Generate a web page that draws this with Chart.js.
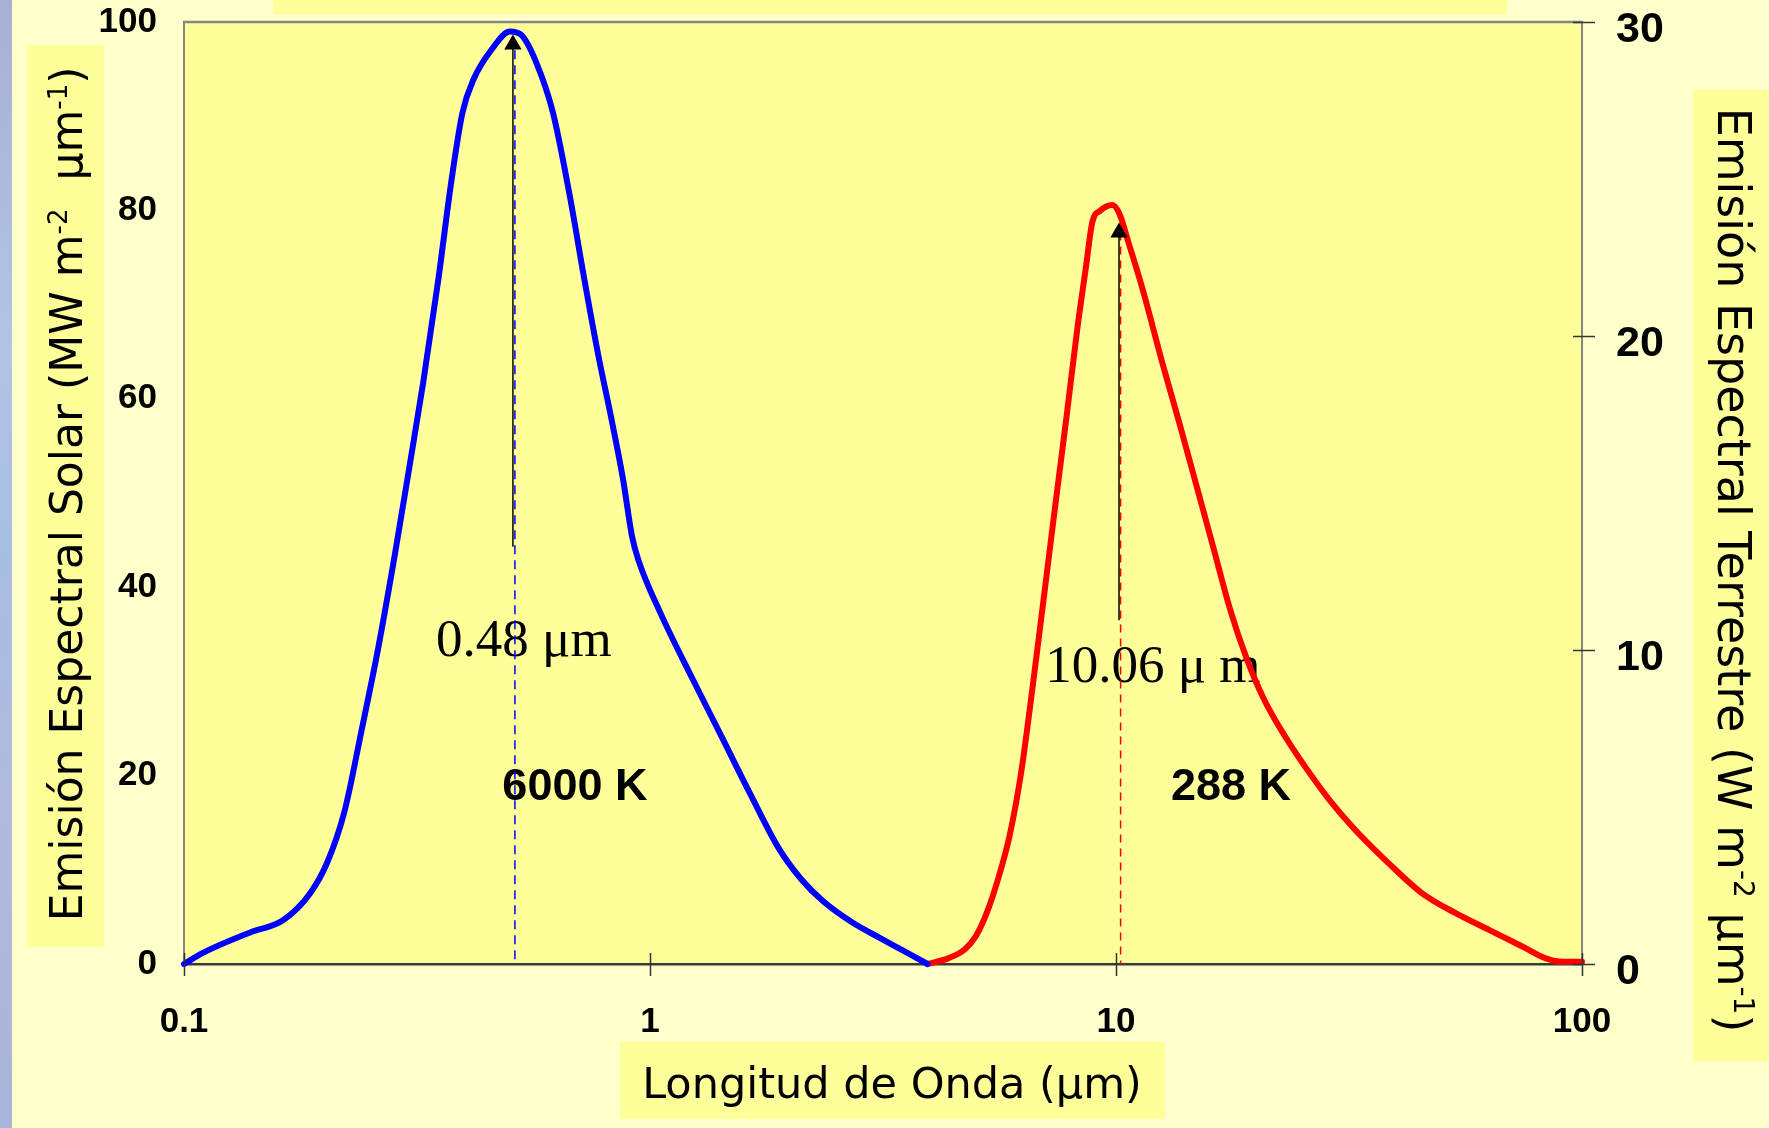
<!DOCTYPE html>
<html>
<head>
<meta charset="utf-8">
<script src="https://cdn.jsdelivr.net/npm/chart.js@4.4.1/dist/chart.umd.min.js"></script>
<style>
html,body{margin:0;padding:0;background:#FFFFCC;overflow:hidden}
canvas{display:block}
</style>
</head>
<body>
<canvas id="c" width="1769" height="1128"></canvas>
<script>
// ---- tick labels ----
const xTicks = [0.1, 1, 10, 100];
const yLeftTicks = [0, 20, 40, 60, 80, 100];
const yRightTicks = [0, 10, 20, 30];

// ---- solar curve (6000 K), left axis, MW m-2 um-1 ----
const solarWavelength = [0.100,0.110,0.1387,0.1634,0.1867,0.203,0.221,0.240,0.261,0.284,0.303,0.326,0.351,0.375,0.396,0.419,0.456,0.501,0.530,0.569,0.619,0.673,0.724,0.774,0.827,0.875,0.915,0.944,1.052,1.236,1.429,1.643,1.888,2.111,2.36,2.713,3.119,3.487,3.94];
const solarEmission   = [0,1.2,3.35,4.67,7.54,10.8,16.2,24.6,33.5,43.7,52.1,61.7,72.5,83.2,90.4,94.0,97.0,99.0,98.6,95.8,90.4,81.5,72.5,64.7,57.8,51.5,45.4,42.9,37.3,30.2,24.0,18.0,12.3,9.0,6.6,4.43,2.75,1.44,0];

// ---- terrestrial curve (288 K), right axis, W m-2 um-1 ----
const earthWavelength = [3.94,4.36,4.74,5.01,5.30,5.60,5.92,6.26,6.62,7.00,7.40,7.83,8.27,8.60,8.90,9.25,9.83,10.17,10.63,11.40,12.57,13.67,14.86,16.16,17.56,19.10,20.76,23.21,25.94,29.01,32.43,38.33,45.32,53.56,63.32,74.84,83.65,90.96,100];
const earthEmission   = [0,0.18,0.47,0.90,1.69,2.77,4.13,6.11,8.80,11.67,14.55,17.42,20.29,22.09,23.64,23.99,24.17,23.89,22.99,21.50,19.15,17.24,15.27,13.29,11.31,9.70,8.44,7.18,6.11,5.14,4.31,3.23,2.26,1.62,1.08,0.54,0.18,0.07,0.07];

// ---- peak markers (data units) ----
const guideLambda = [0.513, 10.23];
const guideTop    = [97, 23.3];
const arrowLambda = [0.508, 10.15];
const arrowFrom   = [44.3, 10.95];
const arrowTo     = [97.6, 23.3];

// ---- notes (anchored in data units, left axis) ----
const noteText   = ['0.48 μm', '6000 K', '10.06 μ m', '288 K'];
const noteLambda = [0.536, 0.690, 12.0, 17.65];
const noteValue  = [32.7, 17.4, 29.9, 17.4];

const SANS = '"DejaVu Sans", Verdana, sans-serif';
const ARIAL = '"Liberation Sans", Arial, sans-serif';
const SERIF = '"Liberation Serif", "Times New Roman", serif';

function pts(xs, ys) { return xs.map((x, i) => ({x: x, y: ys[i]})); }

function richWidth(ctx, parts, size) {
  let w = 0;
  for (const p of parts) {
    ctx.font = (p.sup ? Math.round(size * 0.6) : size) + 'px ' + SANS;
    w += ctx.measureText(p.t).width;
  }
  return w;
}
function drawRich(ctx, parts, cx, by, size) {
  const w = richWidth(ctx, parts, size);
  let x = cx - w / 2;
  ctx.textAlign = 'left';
  ctx.textBaseline = 'alphabetic';
  ctx.fillStyle = '#000';
  for (const p of parts) {
    const s = p.sup ? Math.round(size * 0.6) : size;
    ctx.font = s + 'px ' + SANS;
    ctx.fillText(p.t, x, p.sup ? by - size * 0.34 : by);
    x += ctx.measureText(p.t).width;
  }
}

const leftTitle = [{t:'Emisión Espectral Solar (MW m'},{t:'-2',sup:true},{t:'  μm'},{t:'-1',sup:true},{t:')'}];
const rightTitle = [{t:'Emisión Espectral Terrestre (W m'},{t:'-2',sup:true},{t:' μm'},{t:'-1',sup:true},{t:')'}];
const xTitle = [{t:'Longitud de Onda (μm)'}];

const decor = {
  id: 'decor',
  beforeDraw(chart) {
    const ctx = chart.ctx, a = chart.chartArea;
    ctx.save();
    ctx.fillStyle = '#FFFFCC';
    ctx.fillRect(0, 0, chart.width, chart.height);
    const g = ctx.createLinearGradient(0, 0, 0, chart.height);
    g.addColorStop(0, '#A9B0D2'); g.addColorStop(0.3, '#B0C4E4');
    g.addColorStop(0.5, '#A8BEE0'); g.addColorStop(0.75, '#B2BADC'); g.addColorStop(1, '#A8B4D8');
    ctx.fillStyle = g;
    ctx.fillRect(0, 0, 12, chart.height);
    ctx.fillStyle = '#FFFF99';
    ctx.fillRect(273, 0, 1234, 14);       // title box (cut off)
    ctx.fillRect(27, 45, 77, 902);        // left title box
    ctx.fillRect(1693, 90, 76, 971);      // right title box
    ctx.fillRect(620, 1042, 545, 77);     // x title box
    ctx.fillRect(a.left, a.top, a.right - a.left, a.bottom - a.top);
    ctx.restore();
  },
  beforeDatasetsDraw(chart) {
    const ctx = chart.ctx;
    const xs = chart.scales.x, yl = chart.scales.yL;
    ctx.save();
    ctx.fillStyle = '#000';
    ctx.textAlign = 'center';
    ctx.textBaseline = 'alphabetic';
    noteText.forEach((t, i) => {
      const bold = t.indexOf('K') >= 0;
      ctx.font = bold ? ('bold 45px ' + ARIAL) : ('53px ' + SERIF);
      ctx.fillText(t, xs.getPixelForValue(noteLambda[i]), yl.getPixelForValue(noteValue[i]));
    });
    ctx.restore();
  },
  afterDraw(chart) {
    const ctx = chart.ctx, a = chart.chartArea;
    const xs = chart.scales.x, yr = chart.scales.yR;
    ctx.save();
    // top border
    ctx.strokeStyle = '#858585';
    ctx.lineWidth = 2.5;
    ctx.beginPath(); ctx.moveTo(a.left - 1, a.top); ctx.lineTo(a.right + 1, a.top); ctx.stroke();
    // tick marks
    ctx.strokeStyle = '#333';
    ctx.lineWidth = 1.5;
    xTicks.forEach(v => {
      const px = Math.round(xs.getPixelForValue(v)) + 0.5;
      ctx.beginPath(); ctx.moveTo(px, a.bottom - 11); ctx.lineTo(px, a.bottom + 12); ctx.stroke();
    });
    yRightTicks.forEach(v => {
      const py = Math.round(yr.getPixelForValue(v)) + 0.5;
      ctx.beginPath(); ctx.moveTo(a.right - 9, py); ctx.lineTo(a.right + 13, py); ctx.stroke();
    });
    // axis titles
    ctx.save();
    ctx.translate(82, 494); ctx.rotate(-Math.PI / 2);
    drawRich(ctx, leftTitle, 0, 0, 44);
    ctx.restore();
    ctx.save();
    ctx.translate(1718, 570); ctx.rotate(Math.PI / 2);
    drawRich(ctx, rightTitle, 0, 0, 46);
    ctx.restore();
    drawRich(ctx, xTitle, 892, 1098, 43);
    ctx.restore();
  }
};

const tickFontL = {family: ARIAL, size: 35, weight: 'bold'};
const tickFontR = {family: ARIAL, size: 43, weight: 'bold'};

function noPad(s) { s.paddingTop = 0; s.paddingBottom = 0; s.paddingLeft = 0; s.paddingRight = 0; }

new Chart(document.getElementById('c').getContext('2d'), {
  type: 'line',
  data: {
    datasets: [
      { data: [{x: arrowLambda[0], y: arrowFrom[0]}, {x: arrowLambda[0], y: arrowTo[0]}], yAxisID: 'yL',
        borderColor: '#000', borderWidth: 1.5, pointStyle: 'triangle', pointRadius: [0, 10],
        pointBackgroundColor: '#000', pointBorderColor: '#000', pointBorderWidth: 0, clip: false },
      { data: [{x: arrowLambda[1], y: arrowFrom[1]}, {x: arrowLambda[1], y: arrowTo[1]}], yAxisID: 'yR',
        borderColor: '#000', borderWidth: 1.5, pointStyle: 'triangle', pointRadius: [0, 10],
        pointBackgroundColor: '#000', pointBorderColor: '#000', pointBorderWidth: 0, clip: false },
      { data: pts(solarWavelength, solarEmission), yAxisID: 'yL', borderColor: '#0000FF', borderWidth: 6,
        pointRadius: 0, cubicInterpolationMode: 'monotone', clip: false, borderJoinStyle: 'round', borderCapStyle: 'round' },
      { data: pts(earthWavelength, earthEmission), yAxisID: 'yR', borderColor: '#FF0000', borderWidth: 6,
        pointRadius: 0, cubicInterpolationMode: 'monotone', clip: false, borderJoinStyle: 'round', borderCapStyle: 'round' },
      { data: [{x: guideLambda[0], y: guideTop[0]}, {x: guideLambda[0], y: 0}], yAxisID: 'yL',
        borderColor: '#0000FF', borderWidth: 1.5, borderDash: [9, 6], pointRadius: 0, clip: false },
      { data: [{x: guideLambda[1], y: guideTop[1]}, {x: guideLambda[1], y: 0}], yAxisID: 'yR',
        borderColor: '#FF0000', borderWidth: 1.5, borderDash: [8, 6], pointRadius: 0, clip: false }
    ]
  },
  options: {
    responsive: false,
    animation: false,
    events: [],
    layout: {padding: {top: 22, left: 0, right: 0, bottom: 0}},
    plugins: {legend: {display: false}, tooltip: {enabled: false}, title: {display: false}},
    scales: {
      x: {
        type: 'logarithmic', position: 'bottom', min: 0.1, max: 100,
        afterBuildTicks: s => { s.ticks = xTicks.map(v => ({value: v})); },
        afterFit: s => { s.height = 164; noPad(s); },
        ticks: {callback: v => String(v), font: tickFontL, color: '#000', padding: 37, maxRotation: 0, autoSkip: false},
        grid: {display: false, drawTicks: false},
        border: {display: true, color: '#3a3a3a', width: 2.5}
      },
      yL: {
        type: 'linear', position: 'left', min: 0, max: 100,
        afterBuildTicks: s => { s.ticks = yLeftTicks.map(v => ({value: v})); },
        afterFit: s => { s.width = 184; noPad(s); },
        ticks: {font: tickFontL, color: '#000', padding: 27},
        grid: {display: false, drawTicks: false},
        border: {display: true, color: '#858585', width: 2}
      },
      yR: {
        type: 'linear', position: 'right', min: 0, max: 30,
        afterBuildTicks: s => { s.ticks = yRightTicks.map(v => ({value: v})); },
        afterFit: s => { s.width = 187; noPad(s); },
        ticks: {font: tickFontR, color: '#000', padding: 34, labelOffset: 8},
        grid: {display: false, drawTicks: false},
        border: {display: true, color: '#858585', width: 2}
      }
    }
  },
  plugins: [decor]
});
</script>
</body>
</html>
